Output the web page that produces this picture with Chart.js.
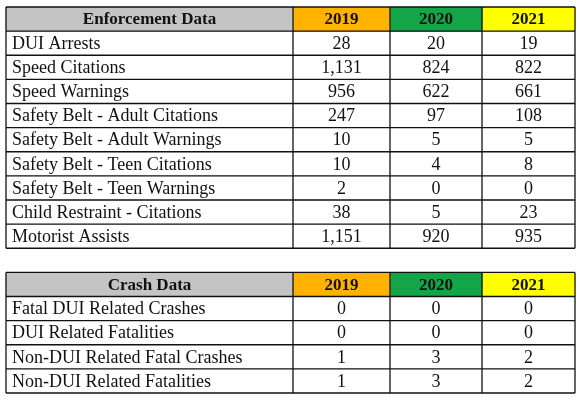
<!DOCTYPE html>
<html><head><meta charset="utf-8">
<script src="https://cdn.jsdelivr.net/npm/chart.js@4"></script>
<style>html,body{margin:0;padding:0;background:#fff}#w{width:578px;height:400px}</style>
</head><body><div id="w"><canvas id="c"></canvas></div>
<script>
const years = ["2019","2020","2021"];
const enfTitle = "Enforcement Data";
const enfRows = ["DUI Arrests","Speed Citations","Speed Warnings","Safety Belt - Adult Citations","Safety Belt - Adult Warnings","Safety Belt - Teen Citations","Safety Belt - Teen Warnings","Child Restraint - Citations","Motorist Assists"];
const enf2019 = ["28","1,131","956","247","10","10","2","38","1,151"];
const enf2020 = ["20","824","622","97","5","4","0","5","920"];
const enf2021 = ["19","822","661","108","5","8","0","23","935"];
const crashTitle = "Crash Data";
const crashRows = ["Fatal DUI Related Crashes","DUI Related Fatalities","Non-DUI Related Fatal Crashes","Non-DUI Related Fatalities"];
const crash2019 = ["0","0","1","1"];
const crash2020 = ["0","0","3","3"];
const crash2021 = ["0","0","2","2"];

const colEdges = [6,293,390,482,575];
const headColors = ["#c4c4c4","#ffb300","#14a548","#ffff00"];

const rowKeys = ["H1",...enfRows,"GAP","H2",...crashRows];
const headerIdx = [0, enfRows.length+2];
const tables = [
  {start:0, title:enfTitle, rows:enfRows, vals:[enf2019,enf2020,enf2021]},
  {start:enfRows.length+2, title:crashTitle, rows:crashRows, vals:[crash2019,crash2020,crash2021]}
];

const datasets = headColors.map((col,i)=>({
  data: rowKeys.map((k,r)=> headerIdx.includes(r) ? [colEdges[i],colEdges[i+1]] : null),
  backgroundColor: col, borderWidth:0, barPercentage:1, categoryPercentage:1, grouped:false
}));

const tablePlugin = {
  id:'tbl',
  afterDatasetsDraw(chart){
    const ctx=chart.ctx, x=chart.scales.x, y=chart.scales.y;
    const band = y.getPixelForValue(1)-y.getPixelForValue(0);
    const top = r => y.getPixelForValue(r)-band/2;
    ctx.save();
    tables.forEach(t=>{
      const n=t.rows.length+1;
      const y0=top(t.start), y1=top(t.start+n);
      ctx.strokeStyle='#111'; ctx.lineWidth=1.3;
      for(let r=0;r<=n;r++){const yy=top(t.start+r);ctx.beginPath();ctx.moveTo(x.getPixelForValue(colEdges[0]),yy);ctx.lineTo(x.getPixelForValue(colEdges[4]),yy);ctx.stroke();}
      colEdges.forEach(e=>{const xx=x.getPixelForValue(e);ctx.beginPath();ctx.moveTo(xx,y0);ctx.lineTo(xx,y1);ctx.stroke();});
      ctx.fillStyle='#111'; ctx.textBaseline='middle';
      ctx.font='bold 17px "Liberation Serif"'; ctx.textAlign='center';
      const hy=y.getPixelForValue(t.start)+1;
      ctx.fillText(t.title,(x.getPixelForValue(colEdges[0])+x.getPixelForValue(colEdges[1]))/2,hy);
      years.forEach((yr,i)=>ctx.fillText(yr,(x.getPixelForValue(colEdges[i+1])+x.getPixelForValue(colEdges[i+2]))/2,hy));
      ctx.font='18px "Liberation Serif"';
      t.rows.forEach((lab,r)=>{
        const cy=y.getPixelForValue(t.start+1+r)+1;
        ctx.textAlign='left'; ctx.fillText(lab,x.getPixelForValue(colEdges[0])+6,cy);
        ctx.textAlign='center';
        t.vals.forEach((v,i)=>ctx.fillText(v[r],(x.getPixelForValue(colEdges[i+1])+x.getPixelForValue(colEdges[i+2]))/2,cy));
      });
    });
    ctx.restore();
  }
};

new Chart(document.getElementById('c'),{
  type:'bar',
  data:{labels:rowKeys, datasets},
  options:{
    indexAxis:'y', responsive:true, maintainAspectRatio:false, animation:false,
    layout:{padding:{top:7,bottom:7,left:0,right:0}},
    plugins:{legend:{display:false},tooltip:{enabled:false}},
    scales:{
      x:{type:'linear',min:0,max:578,display:false},
      y:{type:'category',display:false,offset:true}
    }
  },
  plugins:[tablePlugin]
});
</script></body></html>
